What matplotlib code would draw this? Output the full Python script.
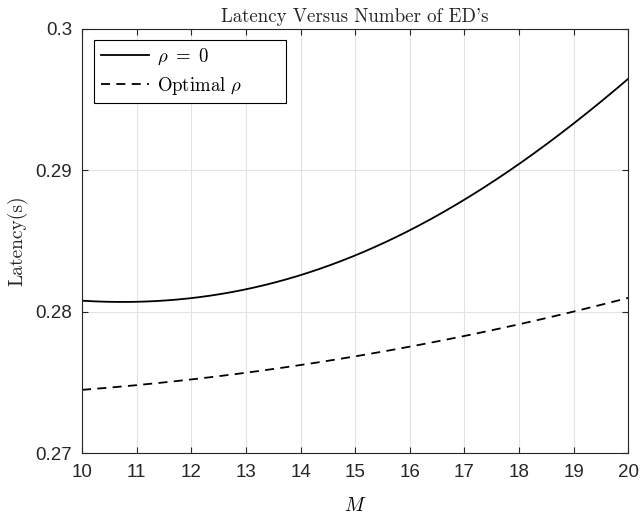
import matplotlib
matplotlib.use("Agg")
import matplotlib.pyplot as plt
import numpy as np

M = [10, 11, 12, 13, 14, 15, 16, 17, 18, 19, 20]
lat_rho0 = [0.28078, 0.28070, 0.28093, 0.28161, 0.28267, 0.28383, 0.28579, 0.28790, 0.29054, 0.29318, 0.29648]
lat_opt = [0.27447, 0.27481, 0.27525, 0.27570, 0.27622, 0.27680, 0.27753, 0.27831, 0.27913, 0.28000, 0.28097]
xticks = list(range(10, 21))
yticks = [0.27, 0.28, 0.29, 0.30]
yticklabels = ["0.27", "0.28", "0.29", "0.3"]

plt.rcParams['mathtext.fontset'] = 'cm'
plt.rcParams['font.family'] = ['Liberation Sans', 'DejaVu Sans']
serif = ['cmr10', 'DejaVu Serif']

fig = plt.figure(figsize=(6.41, 5.19), dpi=100)
ax = fig.add_axes([0.128, 0.1266, 0.852, 0.8184])

xs = np.linspace(10, 20, 300)
c1 = np.polyfit(M, lat_rho0, 4)
c2 = np.polyfit(M, lat_opt, 3)
ax.plot(xs, np.polyval(c1, xs), color='black', lw=1.3, label=r'$\rho\ =\ 0$')
ax.plot(xs, np.polyval(c2, xs), color='black', lw=1.3, ls=(0, (5, 3.5)), label=r'Optimal $\rho$')

ax.set_xlim(10, 20)
ax.set_ylim(0.27, 0.30)
ax.set_xticks(xticks)
ax.set_yticks(yticks)
ax.set_yticklabels(yticklabels)
ax.tick_params(direction='in', top=True, right=True, length=4.5, width=0.8,
               labelsize=13.5, colors='#262626')
ax.tick_params(axis='y', pad=7)
ax.tick_params(axis='x', pad=8)
for s in ax.spines.values():
    s.set_color('#262626')
    s.set_linewidth(0.8)
ax.grid(True, color='#e3e3e3', lw=0.8)
ax.set_axisbelow(True)

ax.set_title("Latency Versus Number of ED's", family=serif, fontsize=13.6, pad=5, color='#262626')
ax.set_xlabel(r'$M$', fontsize=14, labelpad=11)
ax.set_ylabel('Latency(s)', family=serif, fontsize=14, labelpad=6, color='#262626')

leg = ax.legend(loc='upper left', bbox_to_anchor=(0.022, 0.829, 0.352, 0.144), mode='expand',
                fancybox=False, edgecolor='black', borderaxespad=0,
                framealpha=1, handlelength=2.6, borderpad=0.35, labelspacing=0.4,
                handletextpad=0.4, prop={'family': serif, 'size': 13.5})
leg.get_frame().set_linewidth(0.8)

fig.savefig('out.png', dpi=100)
